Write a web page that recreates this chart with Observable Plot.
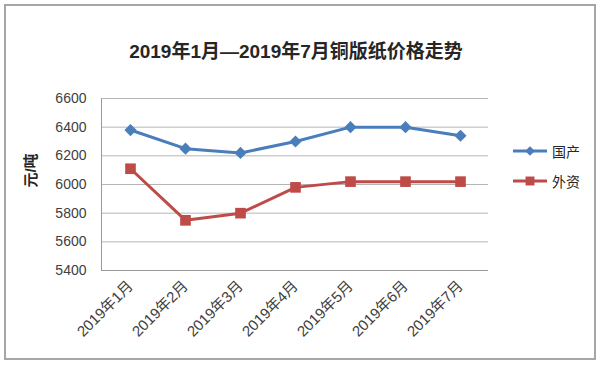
<!DOCTYPE html>
<html>
<head>
<meta charset="utf-8">
<script src="https://cdn.jsdelivr.net/npm/d3@7"></script>
<script src="https://cdn.jsdelivr.net/npm/@observablehq/plot@0.6"></script>
<style>
  html, body { margin: 0; padding: 0; background: #fff; }
  #wrap { position: relative; width: 602px; height: 365px; font-family: "Liberation Sans", "Noto Sans CJK SC", sans-serif; }
  #border { position: absolute; left: 4px; top: 4px; width: 588px; height: 352px; border: 2px solid #a6a6a6; box-sizing: content-box; pointer-events: none; }
  #title { position: absolute; left: 0; width: 592px; top: 36px; text-align: center; font-weight: bold; font-size: 19px; color: #262626; }
  #ylabel { position: absolute; left: 21px; top: 160px; transform-origin: center; transform: rotate(-90deg); font-size: 15px; font-weight: bold; color: #262626; width: 40px; text-align: center; margin-left: -12px; }
  #legend { position: absolute; left: 512px; top: 136px; font-size: 14px; color: #262626; }
  .item { display: flex; align-items: center; height: 30px; }
  .item svg { margin-right: 4px; }
</style>
</head>
<body>
<div id="wrap">
  <div id="chart"></div>
  <div id="title"></div>
  <div id="ylabel"></div>
  <div id="legend"></div>
  <div id="border"></div>
</div>
<script>
const titleText = "2019年1月—2019年7月铜版纸价格走势";
const yLabel = "元/吨";
const months = ["2019年1月", "2019年2月", "2019年3月", "2019年4月", "2019年5月", "2019年6月", "2019年7月"];
const seriesNames = ["国产", "外资"];
const domestic = [6380, 6250, 6220, 6300, 6400, 6400, 6340];
const foreign = [6110, 5750, 5800, 5980, 6020, 6020, 6020];
const yTicks = [5400, 5600, 5800, 6000, 6200, 6400, 6600];
const colors = ["#4a7ebb", "#be4b48"];
const symbols = ["diamond2", "square"];

const data = [];
months.forEach((m, i) => {
  data.push({month: m, series: seriesNames[0], value: domestic[i]});
  data.push({month: m, series: seriesNames[1], value: foreign[i]});
});

const leftAxisLine = (index, scales, values, dimensions) => {
  const g = d3.create("svg:line")
    .attr("x1", dimensions.marginLeft + 0.5)
    .attr("x2", dimensions.marginLeft + 0.5)
    .attr("y1", dimensions.marginTop)
    .attr("y2", dimensions.height - dimensions.marginBottom)
    .attr("stroke", "#9a9a9a");
  return g.node();
};

const chart = Plot.plot({
  width: 602,
  height: 365,
  marginLeft: 101,
  marginRight: 114,
  marginTop: 98,
  marginBottom: 95,
  style: {fontFamily: "Liberation Sans, Noto Sans CJK SC, sans-serif", fontSize: "14px", color: "#404040", background: "transparent"},
  x: {type: "point", domain: months, padding: 0.5, label: null},
  y: {domain: [5400, 6600], ticks: yTicks, label: null, tickSize: 0, tickPadding: 15, tickFormat: d => String(d)},
  color: {domain: seriesNames, range: colors},
  symbol: {domain: seriesNames, range: symbols},
  marks: [
    Plot.ruleY(yTicks, {stroke: "#b5b5b5", strokeWidth: 1}),
    Plot.ruleY([5400], {stroke: "#9a9a9a", strokeWidth: 1}),
    leftAxisLine,
    Plot.axisX({tickSize: 0, tickPadding: 13, tickRotate: -45, fontSize: 15, label: null}),
    Plot.line(data, {x: "month", y: "value", z: "series", stroke: "series", strokeWidth: 3}),
    Plot.dot(data.filter(d => d.series === seriesNames[0]), {x: "month", y: "value", symbol: "series", fill: "series", r: 5.5, stroke: "none"}),
    Plot.dot(data.filter(d => d.series === seriesNames[1]), {x: "month", y: "value", symbol: "series", fill: "series", r: 6, stroke: "none"})
  ]
});
document.getElementById("chart").appendChild(chart);
document.getElementById("title").textContent = titleText;
document.getElementById("ylabel").textContent = yLabel;

const legend = document.getElementById("legend");
seriesNames.forEach((name, i) => {
  const item = document.createElement("div");
  item.className = "item";
  const svg = d3.create("svg").attr("width", 36).attr("height", 14);
  svg.append("line").attr("x1", 1).attr("x2", 35).attr("y1", 7).attr("y2", 7).attr("stroke", colors[i]).attr("stroke-width", 3);
  const sym = i === 0 ? d3.symbolDiamond2 : d3.symbolSquare;
  svg.append("path").attr("d", d3.symbol(sym, i === 0 ? 60 : 80)()).attr("transform", "translate(18,7)").attr("fill", colors[i]);
  item.appendChild(svg.node());
  const t = document.createElement("span");
  t.textContent = name;
  item.appendChild(t);
  legend.appendChild(item);
});
</script>
</body>
</html>
